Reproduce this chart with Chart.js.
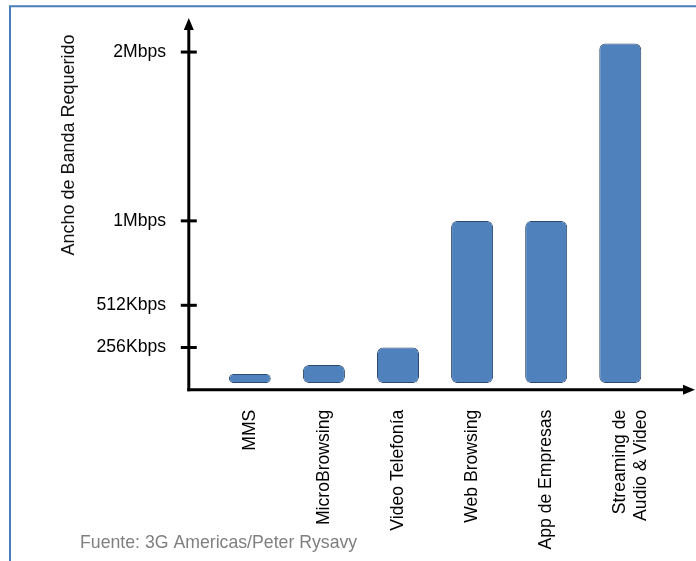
<!DOCTYPE html>
<html lang="es">
<head>
<meta charset="utf-8">
<title>Ancho de Banda Requerido</title>
<script src="https://cdn.jsdelivr.net/npm/chart.js@4.4.1/dist/chart.umd.min.js"></script>
<style>
  html, body { margin: 0; padding: 0; background: #fff; }
  canvas { display: block; }
</style>
</head>
<body>
<canvas id="chart" width="696" height="561"></canvas>
<script>
// Aplicaciones móviles y ancho de banda requerido (kbps)
const categories = ['MMS', 'MicroBrowsing', 'Video Telefonía', 'Web Browsing', 'App de Empresas', ['Streaming de', 'Audio & Video']];
const bandwidthKbps = [95, 150, 256, 1024, 1024, 2100];
const barBaseKbps = 40;
const tickValues = [256, 512, 1024, 2048];
const tickLabels = ['256Kbps', '512Kbps', '1Mbps', '2Mbps'];
const axisTitle = 'Ancho de Banda Requerido';
const sourceNote = 'Fuente: 3G Americas/Peter Rysavy';

const FONT = "'Liberation Sans', Arial, sans-serif";
Chart.defaults.font.family = FONT;
Chart.defaults.font.size = 17.6;
Chart.defaults.color = '#000';

// Marco, ejes con flechas, marcas del eje Y, título del eje y nota de fuente
const decor = {
  id: 'decor',
  beforeDraw(chart) {
    const { ctx, width, height } = chart;
    ctx.save();
    ctx.fillStyle = '#fff';
    ctx.fillRect(0, 0, width, height);
    ctx.strokeStyle = '#4a7ebb';
    ctx.lineWidth = 2;
    ctx.beginPath();
    ctx.moveTo(10, height);
    ctx.lineTo(10, 6.3);
    ctx.lineTo(width, 6.3);
    ctx.stroke();
    ctx.restore();
  },
  afterDatasetsDraw(chart) {
    const { ctx, chartArea, scales } = chart;
    const y = scales.y;
    const axisX = chartArea.left - 24;
    const axisY = y.getPixelForValue(0);
    const tipY = chartArea.top - 9;
    const tipX = chart.width - 1;
    ctx.save();
    ctx.strokeStyle = '#000';
    ctx.fillStyle = '#000';
    ctx.lineWidth = 3;
    ctx.lineCap = 'butt';
    // eje Y
    ctx.beginPath();
    ctx.moveTo(axisX, axisY + 1.5);
    ctx.lineTo(axisX, tipY + 10);
    ctx.stroke();
    ctx.beginPath();
    ctx.moveTo(axisX, tipY);
    ctx.lineTo(axisX - 5, tipY + 12);
    ctx.lineTo(axisX + 5, tipY + 12);
    ctx.closePath();
    ctx.fill();
    // eje X
    ctx.beginPath();
    ctx.moveTo(axisX - 1.5, axisY);
    ctx.lineTo(tipX - 10, axisY);
    ctx.stroke();
    ctx.beginPath();
    ctx.moveTo(tipX, axisY);
    ctx.lineTo(tipX - 12, axisY - 5);
    ctx.lineTo(tipX - 12, axisY + 5);
    ctx.closePath();
    ctx.fill();
    // marcas del eje Y
    tickValues.forEach(v => {
      const py = y.getPixelForValue(v);
      ctx.beginPath();
      ctx.moveTo(axisX - 8, py);
      ctx.lineTo(axisX + 8, py);
      ctx.stroke();
    });
    // título del eje Y
    ctx.font = '18px ' + FONT;
    ctx.fillStyle = '#111';
    ctx.textAlign = 'center';
    ctx.textBaseline = 'middle';
    ctx.translate(69, 145);
    ctx.rotate(-Math.PI / 2);
    ctx.fillText(axisTitle, 0, 0);
    ctx.setTransform(1, 0, 0, 1, 0, 0);
    // fuente
    ctx.font = '17.7px ' + FONT;
    ctx.fillStyle = '#7f7f7f';
    ctx.textAlign = 'left';
    ctx.fillText(sourceNote, 80, 543);
    ctx.restore();
  }
};

new Chart(document.getElementById('chart'), {
  type: 'bar',
  data: {
    labels: categories,
    datasets: [{
      data: bandwidthKbps,
      base: barBaseKbps,
      backgroundColor: '#4f81bd',
      borderColor: '#2d4a6f',
      borderWidth: 1,
      borderRadius: 6,
      borderSkipped: false,
      barPercentage: 0.567,
      categoryPercentage: 1
    }]
  },
  options: {
    responsive: false,
    animation: false,
    layout: { padding: { left: 0, top: 27, right: 38.7, bottom: 0 } },
    plugins: { legend: { display: false }, tooltip: { enabled: false } },
    scales: {
      x: {
        grid: { display: false, drawTicks: false },
        border: { display: false },
        ticks: { autoSkip: false, minRotation: 90, maxRotation: 90, padding: 20, color: '#000' },
        afterFit(s) { s.height = 171.3; }
      },
      y: {
        type: 'linear',
        min: 0,
        max: 2200,
        grid: { display: false, drawTicks: false },
        border: { display: false },
        ticks: {
          padding: 46.8,
          color: '#000',
          callback: v => tickLabels[tickValues.indexOf(v)]
        },
        afterBuildTicks(s) { s.ticks = tickValues.map(v => ({ value: v })); },
        afterFit(s) {
          s.width = 212.8;
          s.paddingTop = 0;
          s.paddingBottom = 0;
        }
      }
    }
  },
  plugins: [decor]
});
</script>
</body>
</html>
